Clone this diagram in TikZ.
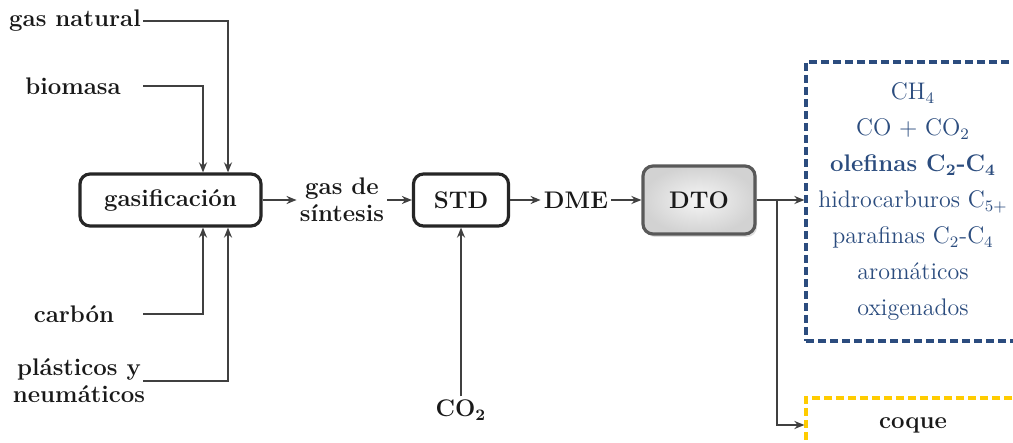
\documentclass[tikz,border=0pt]{standalone}
\usetikzlibrary{arrows.meta,shadows}
\definecolor{linegray}{HTML}{404040}
\definecolor{prodblue}{HTML}{2B4C7E}
\definecolor{cokeyellow}{HTML}{FFCC00}

\begin{document}
\begin{tikzpicture}[x=0.5pt,y=-0.5pt,>={Stealth[length=5pt,width=4pt]},
  every node/.style={text=black!90},
  proc/.style={draw=black!85,line width=1.6pt,rounded corners=5pt,minimum height=26pt,
    font=\bfseries\fontsize{12}{13.5}\selectfont},
  lbl/.style={align=center,inner sep=1.5pt,font=\bfseries\fontsize{12}{13.5}\selectfont},
  prodbox/.style={line width=1.6pt,dash pattern=on 4pt off 2pt,minimum width=107pt,align=center},
  flow/.style={->,draw=linegray,line width=0.9pt}]
  \useasboundingbox (0,0) rectangle (1013,443);
  \clip (0,0) rectangle (1013,443);

  % feedstocks
  \node[lbl] (gn) at (75,21) {gas natural};
  \node[lbl] (bio) at (73,86) {biomasa};
  \node[lbl] (carb) at (74,314) {carbón};
  \node[lbl] (plas) at (79,381) {plásticos y\\neumáticos};
  \coordinate (src) at (143,0);
  \coordinate (d1) at (203,0);
  \coordinate (d2) at (228,0);

  % process chain
  \node[proc,minimum width=90.5pt] (gas) at (170.5,200) {gasificación};
  \node[lbl] (sg) at (342,200) {gas de\\síntesis};
  \node[proc,minimum width=47.5pt] (std) at (461,200) {STD};
  \node[lbl] (dme) at (576,200) {DME};
  \node[proc,draw=black!65,minimum width=56pt,minimum height=34pt,shading=radial,
    inner color=gray!8,outer color=gray!35,
    drop shadow={opacity=0.25,shadow xshift=1pt,shadow yshift=-1.5pt}] (dto) at (699,200) {DTO};
  \node[lbl] (co2) at (461,410) {CO\textsubscript{2}};

  % products
  \node[prodbox,draw=prodblue,text=prodblue,minimum height=139.5pt,
    font=\fontsize{12}{18}\selectfont] (prod) at (913,201.5)
    {CH\textsubscript{4}\\CO + CO\textsubscript{2}\\\textbf{olefinas C\textsubscript{2}-C\textsubscript{4}}\\
     hidrocarburos C\textsubscript{5+}\\parafinas C\textsubscript{2}-C\textsubscript{4}\\aromáticos\\oxigenados};
  \node[prodbox,draw=cokeyellow,minimum height=27pt,
    font=\bfseries\fontsize{12}{13.5}\selectfont] (coke) at (913,425) {coque};
  \coordinate (br) at (777,200);

  \draw[flow] (gn -| src) -| (gas.north -| d2);
  \draw[flow] (bio -| src) -| (gas.north -| d1);
  \draw[flow] (carb -| src) -| (gas.south -| d1);
  \draw[flow] (plas -| src) -| (gas.south -| d2);
  \path[flow] (gas) edge (sg)
              (sg) edge (std)
              (std) edge (dme)
              (dme) edge (dto)
              (co2) edge (std);
  \draw[flow] (dto.east) -- (prod.west |- dto.east);
  \draw[flow] (br) |- (coke.west);
\end{tikzpicture}
\end{document}
